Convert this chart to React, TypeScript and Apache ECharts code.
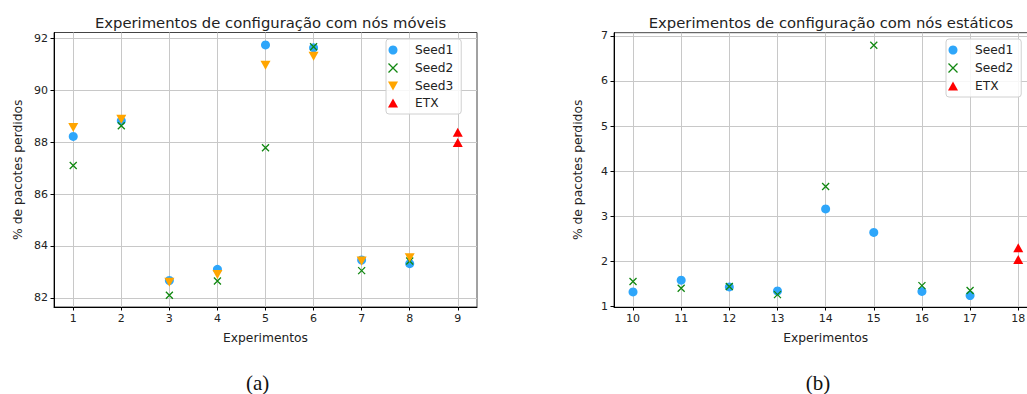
import React, { useEffect, useRef } from "react";
import * as echarts from "echarts";

// Left chart (mobile nodes)
const expA = [1, 2, 3, 4, 5, 6, 7, 8];
const seed1A = [88.22, 88.82, 82.67, 83.1, 91.74, 91.63, 83.46, 83.32];
const seed2A = [87.1, 88.63, 82.1, 82.65, 87.78, 91.67, 83.05, 83.42];
const seed3A = [88.56, 88.88, 82.6, 82.9, 90.96, 91.31, 83.42, 83.55];
const etxXA = [9, 9];
const etxA = [88.38, 87.98];
const xTicksA = [1, 2, 3, 4, 5, 6, 7, 8, 9];
const yTicksA = [82, 84, 86, 88, 90, 92];

// Right chart (static nodes)
const expB = [10, 11, 12, 13, 14, 15, 16, 17];
const seed1B = [1.32, 1.58, 1.43, 1.34, 3.16, 2.64, 1.33, 1.24];
const seed2B = [1.55, 1.4, 1.44, 1.26, 3.66, 6.79, 1.46, 1.35];
const etxXB = [18, 18];
const etxB = [2.3, 2.04];
const xTicksB = [10, 11, 12, 13, 14, 15, 16, 17, 18];
const yTicksB = [1, 2, 3, 4, 5, 6, 7];

const C1 = "#2ea6fa";
const C2 = "#118811";
const C3 = "#ffa500";
const C4 = "#ff0000";
const FONT = "DejaVu Sans";
const CROSS = "path://M0,0L10,10M10,0L0,10";
const TRI_DOWN = "path://M0,0L10,0L5,9Z";
const TRI_UP = "path://M5,0L10,9L0,9Z";

const zip = (xs: number[], ys: number[]) => xs.map((x, i) => [x, ys[i]]);

function App() {
  const ref = useRef<HTMLDivElement>(null);
  useEffect(() => {
    if (!ref.current) return;
    const chart = echarts.init(ref.current, undefined, { renderer: "svg" });

    const xAxisBase = (gridIndex: number, min: number, max: number, ticks: number[]) => ({
      type: "value",
      gridIndex,
      min,
      max,
      name: "Experimentos",
      nameLocation: "middle",
      nameGap: 25,
      nameTextStyle: { fontFamily: FONT, fontSize: 12.3, color: "#222" },
      axisLine: { show: true, onZero: false, lineStyle: { color: "#000", width: 1 } },
      axisTick: { show: true, length: 3.5, customValues: ticks, lineStyle: { color: "#000" } },
      axisLabel: { customValues: ticks, fontFamily: FONT, fontSize: 11, color: "#222", margin: 6 },
      splitLine: { show: true, lineStyle: { color: "#c8c8c8", width: 1 } },
    });
    const yAxisBase = (gridIndex: number, min: number, max: number, ticks: number[]) => ({
      type: "value",
      gridIndex,
      min,
      max,
      name: "% de pacotes perdidos",
      nameLocation: "middle",
      nameGap: 30,
      nameTextStyle: { fontFamily: FONT, fontSize: 12.3, color: "#222" },
      axisLine: { show: true, onZero: false, lineStyle: { color: "#000", width: 1 } },
      axisTick: { show: true, length: 3.5, customValues: ticks, lineStyle: { color: "#000" } },
      axisLabel: { customValues: ticks, fontFamily: FONT, fontSize: 11, color: "#222", margin: 6 },
      splitLine: { show: true, lineStyle: { color: "#c8c8c8", width: 1 } },
    });

    const sc = (name: string, xi: number, data: number[][], symbol: string, color: string, size: number | number[], z = 3) => ({
      type: "scatter",
      name,
      xAxisIndex: xi,
      yAxisIndex: xi,
      data,
      symbol,
      symbolSize: size,
      z,
      itemStyle:
        symbol === CROSS
          ? { color: "none", borderColor: color, borderWidth: 1.3, opacity: 1 }
          : { color, opacity: 1 },
    });

    const legendBase = (left: number, names: string[]) => ({
      left,
      top: 39,
      orient: "vertical",
      backgroundColor: "rgba(255,255,255,0.85)",
      borderColor: "#d0d0d0",
      borderWidth: 1,
      borderRadius: 3,
      padding: [5, 8, 5, 0],
      itemGap: 5,
      itemWidth: 34,
      itemHeight: 9,
      textStyle: { fontFamily: FONT, fontSize: 12.2, color: "#222" },
      data: names.map((n) => ({
        name: n,
        icon: n === "Seed1" ? "circle" : n === "Seed2" ? CROSS : n === "Seed3" ? TRI_DOWN : TRI_UP,
        itemStyle:
          n === "Seed2"
            ? { color: "none", borderColor: C2, borderWidth: 1.3 }
            : { color: n === "Seed1" ? C1 : n === "Seed3" ? C3 : C4 },
      })),
    });

    chart.setOption({
      animation: false,
      backgroundColor: "#fff",
      title: [
        {
          text: "Experimentos de configuração com nós móveis",
          left: 265.5,
          top: 10,
          textAlign: "center",
          textStyle: { fontFamily: FONT, fontSize: 14.8, fontWeight: "normal", color: "#222" },
        },
        {
          text: "Experimentos de configuração com nós estáticos",
          left: 826,
          top: 10,
          textAlign: "center",
          textStyle: { fontFamily: FONT, fontSize: 14.8, fontWeight: "normal", color: "#222" },
        },
      ],
      grid: [
        { left: 54, top: 32.5, width: 423, height: 274.5, show: true, borderColor: "#444", borderWidth: 1, backgroundColor: "transparent" },
        { left: 614, top: 32.7, width: 423.5, height: 274.3, show: true, borderColor: "#444", borderWidth: 1, backgroundColor: "transparent" },
      ],
      xAxis: [xAxisBase(0, 0.6, 9.4, xTicksA), xAxisBase(1, 9.605, 18.4, xTicksB)],
      yAxis: [yAxisBase(0, 81.65, 92.22, yTicksA), yAxisBase(1, 0.985, 7.07, yTicksB)],
      legend: [
        legendBase(386, ["Seed1", "Seed2", "Seed3", "ETX"]),
        legendBase(946, ["Seed1", "Seed2", "ETX"]),
      ],
      graphic: [
        { type: "text", x: 257.7, y: 383, style: { text: "(a)", font: "21px 'Liberation Serif'", fill: "#111", align: "center", verticalAlign: "middle" } },
        { type: "text", x: 818, y: 383, style: { text: "(b)", font: "21px 'Liberation Serif'", fill: "#111", align: "center", verticalAlign: "middle" } },
      ],
      series: [
        sc("Seed1", 0, zip(expA, seed1A), "circle", C1, 9),
        sc("Seed2", 0, zip(expA, seed2A), CROSS, C2, 7),
        sc("Seed3", 0, zip(expA, seed3A), TRI_DOWN, C3, [10, 9]),
        sc("ETX", 0, zip(etxXA, etxA), TRI_UP, C4, [10, 9]),
        sc("Seed1", 1, zip(expB, seed1B), "circle", C1, 9),
        sc("Seed2", 1, zip(expB, seed2B), CROSS, C2, 7),
        sc("ETX", 1, zip(etxXB, etxB), TRI_UP, C4, [10, 9]),
      ],
    });
    return () => chart.dispose();
  }, []);

  return (
    <div style={{ position: "absolute", left: 0, top: 0, width: 1027, height: 394, overflow: "hidden", background: "#fff" }}>
      <div ref={ref} style={{ width: 1045, height: 394 }} />
    </div>
  );
}

export default App;
